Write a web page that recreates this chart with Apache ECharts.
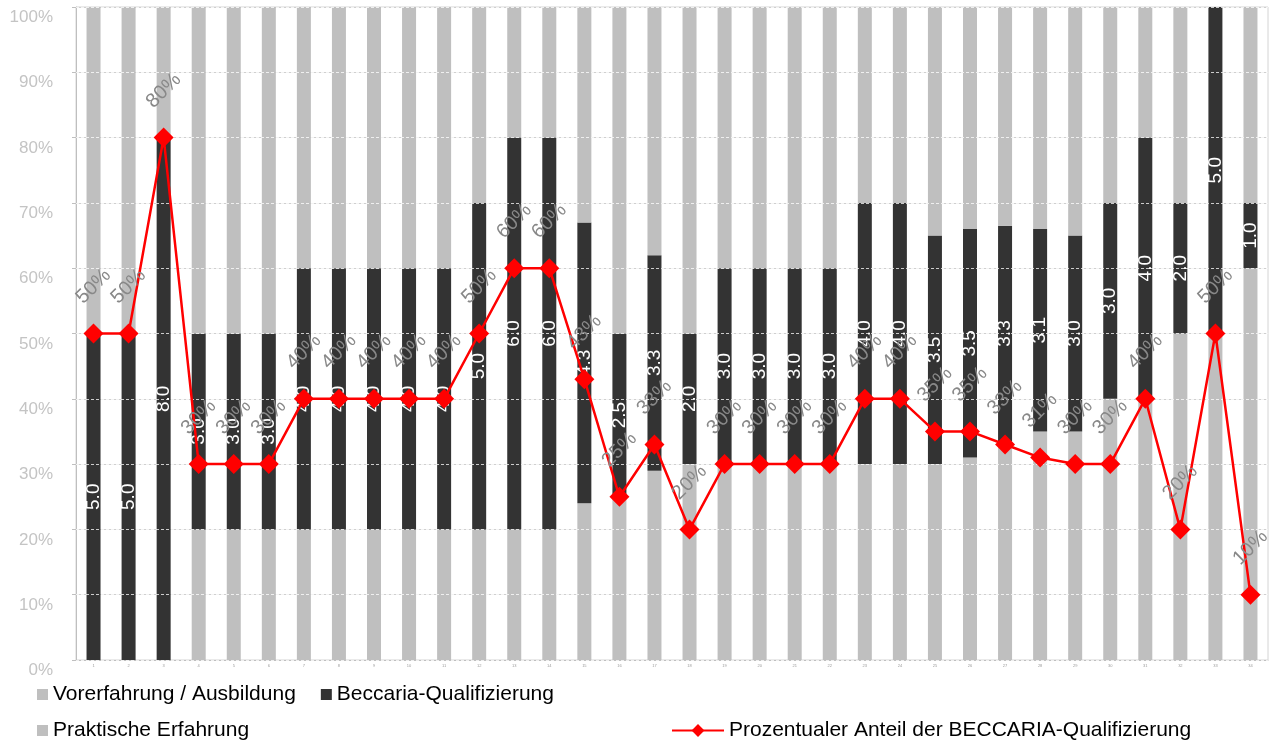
<!DOCTYPE html>
<html>
<head>
<meta charset="utf-8">
<script src="https://cdn.jsdelivr.net/npm/echarts@6/dist/echarts.min.js"></script>
<style>
  html, body { margin: 0; padding: 0; background: #ffffff; }
  #chart { width: 1274px; height: 740px; }
</style>
</head>
<body>
<div id="chart"></div>
<script>
// Participants 1..34
const categories = Array.from({ length: 34 }, (_, i) => String(i + 1));

// Stacked components (points out of 10)
const vorerfahrung = [0, 0, 0, 2, 2, 2, 2, 2, 2, 2, 2, 2, 2, 2, 2.4, 2.5, 2.9, 3, 3, 3, 3, 3, 3, 3, 3.0, 3.1, 3.35, 3.5, 3.5, 4, 4, 5, 5, 6];
const beccaria     = [5, 5, 8, 3, 3, 3, 4, 4, 4, 4, 4, 5, 6, 6, 4.3, 2.5, 3.3, 2, 3, 3, 3, 3, 4, 4, 3.5, 3.5, 3.3, 3.1, 3.0, 3, 4, 2, 5, 1];
const praktisch    = [5, 5, 2, 5, 5, 5, 4, 4, 4, 4, 4, 3, 2, 2, 3.3, 5, 3.8, 5, 4, 4, 4, 4, 3, 3, 3.5, 3.4, 3.35, 3.4, 3.5, 3, 2, 3, 0, 3];

// Share of the Beccaria qualification, in percent
const anteil = [50, 50, 80, 30, 30, 30, 40, 40, 40, 40, 40, 50, 60, 60, 43, 25, 33, 20, 30, 30, 30, 30, 40, 40, 35, 35, 33, 31, 30, 30, 40, 20, 50, 10];

const yTickLabels = ['0%', '10%', '20%', '30%', '40%', '50%', '60%', '70%', '80%', '90%', '100%'];

const names = {
  vor: 'Vorerfahrung / Ausbildung',
  bec: 'Beccaria-Qualifizierung',
  pra: 'Praktische Erfahrung',
  line: 'Prozentualer Anteil der BECCARIA-Qualifizierung'
};

const FONT = '"Liberation Sans", Arial, Helvetica, sans-serif';
const LIGHT = '#bfbfbf';
const DARK = '#333333';
const RED = '#ff0000';

const chart = echarts.init(document.getElementById('chart'), null, { renderer: 'canvas' });

const legendText = { fontFamily: FONT, fontSize: 21, color: '#000000' };

chart.setOption({
  animation: false,
  backgroundColor: '#ffffff',
  textStyle: { fontFamily: FONT },
  grid: {
    left: 76, right: 6, top: 7, bottom: 80,
    show: true, borderColor: '#d4d4d4', borderWidth: 1
  },
  legend: [
    {
      left: 37, top: 684, padding: 0, itemGap: 25,
      itemWidth: 11, itemHeight: 11, icon: 'rect',
      textStyle: legendText,
      data: [names.vor, names.bec]
    },
    {
      left: 37, top: 720, padding: 0,
      itemWidth: 11, itemHeight: 11, icon: 'rect',
      textStyle: legendText,
      data: [names.pra]
    },
    {
      left: 671, top: 720, padding: 0,
      itemWidth: 52, itemHeight: 16,
      textStyle: legendText,
      data: [names.line]
    }
  ],
  xAxis: {
    type: 'category',
    data: categories,
    axisLine: { lineStyle: { color: LIGHT, width: 1 } },
    axisTick: { show: false },
    axisLabel: { fontSize: 4, color: '#9a9a9a', margin: 4, interval: 0 }
  },
  yAxis: [
    {
      // bar scale: points out of 10, shown as percent
      type: 'value', min: 0, max: 10, interval: 1,
      axisLine: { show: true, lineStyle: { color: LIGHT } },
      axisTick: { show: true, length: 4, lineStyle: { color: LIGHT } },
      axisLabel: {
        color: '#c4c4c4', fontSize: 17, fontFamily: FONT, margin: 23,
        verticalAlign: 'top', padding: [2, 0, 0, 0],
        formatter: (v) => yTickLabels[Math.round(v)]
      },
      splitLine: { show: true, lineStyle: { color: '#cfcfcf', width: 1 } }
    },
    {
      // percent scale for the share line; its dashed grid sits over the bars
      type: 'value', min: 0, max: 100, interval: 10, position: 'right',
      z: 3,
      axisLine: { show: false },
      axisTick: { show: false },
      axisLabel: { show: false },
      splitLine: { show: true, lineStyle: { color: 'rgba(255,255,255,0.75)', width: 1, type: [3, 2] } }
    }
  ],
  series: [
    {
      name: names.vor, type: 'bar', stack: 'total', barWidth: 14,
      itemStyle: { color: LIGHT },
      data: vorerfahrung
    },
    {
      name: names.bec, type: 'bar', stack: 'total', barWidth: 14,
      itemStyle: { color: DARK },
      label: {
        show: true, position: 'inside', rotate: 90,
        color: '#ffffff', fontSize: 19, fontFamily: FONT,
        formatter: (p) => p.value.toFixed(1)
      },
      data: beccaria
    },
    {
      name: names.pra, type: 'bar', stack: 'total', barWidth: 14,
      itemStyle: { color: LIGHT },
      data: praktisch
    },
    {
      name: names.line, type: 'line', yAxisIndex: 1, z: 5,
      symbol: 'diamond', symbolSize: 20,
      lineStyle: { color: RED, width: 2.5 },
      itemStyle: { color: RED },
      label: {
        show: true, position: 'top', distance: 37, rotate: 45,
        align: 'center', verticalAlign: 'middle',
        color: '#888888', fontSize: 20, fontFamily: FONT,
        formatter: (p) => p.value + '%'
      },
      labelLayout: { hideOverlap: false },
      data: anteil
    }
  ]
});
</script>
</body>
</html>
